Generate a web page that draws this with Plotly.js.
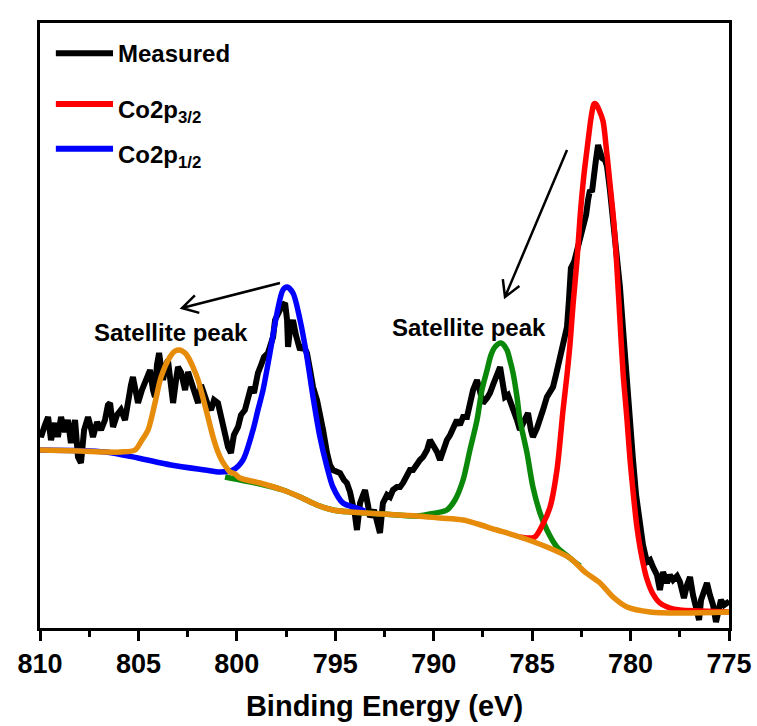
<!DOCTYPE html>
<html>
<head>
<meta charset="utf-8">
<script src="https://cdn.plot.ly/plotly-3.0.1.min.js"></script>
<style>html,body{margin:0;padding:0;background:#fff;}#chart{width:757px;height:726px;}</style>
</head>
<body>
<div id="chart"></div>
<script>
// Measured Co 2p spectrum (binding energy eV, intensity a.u.)
const measuredE = [810.00,809.95,809.75,809.59,809.44,809.24,809.09,808.93,808.73,808.58,808.43,808.22,808.07,807.92,807.76,807.56,807.41,807.31,807.10,806.90,806.70,806.55,806.44,806.29,806.09,805.89,805.68,805.53,805.38,805.28,805.12,805.02,804.82,804.67,804.51,804.41,804.26,804.16,804.06,803.95,803.85,803.75,803.60,803.50,803.35,803.24,803.09,802.99,802.84,802.63,802.48,802.33,802.13,801.97,801.82,801.62,801.47,801.31,801.16,800.96,800.81,800.70,800.55,800.45,800.30,800.15,799.94,799.79,799.59,799.43,799.28,799.13,798.93,798.77,798.62,798.42,798.27,798.16,798.06,797.91,797.81,797.66,797.55,797.45,797.40,797.30,797.15,797.00,796.79,796.64,796.44,796.28,796.13,795.93,795.78,795.62,795.42,795.27,795.12,794.91,794.76,794.56,794.41,794.25,794.15,794.00,793.90,793.74,793.59,793.49,793.34,793.24,793.03,792.88,792.73,792.58,792.37,792.22,792.07,791.87,791.71,791.56,791.36,791.21,791.05,790.85,790.70,790.54,790.34,790.19,790.04,789.83,789.68,789.53,789.33,789.17,789.02,788.82,788.67,788.51,788.31,788.16,788.00,787.80,787.65,787.50,787.29,787.14,786.99,786.79,786.63,786.48,786.38,786.23,786.13,785.97,785.77,785.62,785.41,785.21,785.06,784.96,784.75,784.60,784.45,784.25,784.09,783.94,783.79,783.64,783.48,783.33,783.23,783.13,783.03,782.87,782.72,782.57,782.42,782.26,782.16,782.06,781.96,781.86,781.76,781.65,781.55,781.45,781.30,781.20,781.05,780.89,780.69,780.54,780.38,780.18,780.03,779.88,779.72,779.52,779.37,779.17,779.01,778.86,778.66,778.51,778.35,778.15,778.00,777.84,777.64,777.49,777.29,777.13,776.98,776.83,776.68,776.52,776.42,776.27,776.12,775.97,775.81,775.66,775.56,775.41,775.25,775.10,775.00];
const measuredI = [198,191,203,211,188,205,191,211,196,208,185,208,171,165,198,211,200,191,206,198,208,223,225,201,213,218,208,231,243,251,233,225,238,245,256,258,238,231,263,275,260,248,263,268,243,225,248,261,256,238,256,248,233,225,243,231,223,218,228,225,210,201,188,181,175,193,201,213,218,228,241,235,255,263,271,275,288,291,308,316,318,323,325,308,281,298,308,293,278,283,275,258,241,228,215,198,175,163,158,156,155,148,145,136,128,113,98,125,133,138,123,111,118,108,95,125,133,131,138,141,141,145,151,158,158,165,168,171,178,188,183,176,168,178,188,193,200,208,203,211,211,228,238,248,233,225,230,235,243,253,261,243,231,233,228,218,208,198,208,215,198,191,200,208,218,231,236,241,253,266,283,293,301,328,360,366,378,388,403,413,428,438,436,448,468,483,478,470,468,462,438,410,378,341,298,238,203,169,133,100,83,66,68,61,53,38,56,45,53,48,52,46,30,43,51,33,21,8,28,38,45,33,23,6,18,28,23,25,23];

// Co2p3/2 fitted component (with background)
const co2p32E = [785.62,785.26,784.86,784.45,784.09,783.74,783.43,783.23,783.08,782.92,782.72,782.57,782.37,782.21,782.06,781.96,781.86,781.76,781.60,781.40,781.25,781.05,780.84,780.69,780.54,780.38,780.18,780.03,779.83,779.67,779.42,779.17,778.86,778.51,778.00,777.49,776.47,775.00];
const co2p32I = [91,90,91,104,121,158,218,253,283,324,368,410,453,479,503,516,524,524,518,507,483,445,403,359,308,255,208,169,128,100,70,49,34,25,20,18,17,16];

// Co2p1/2 fitted component (with background)
const co2p12E = [810.00,806.70,805.02,803.35,801.62,800.86,800.20,799.69,799.18,798.93,798.67,798.32,797.96,797.66,797.45,797.15,796.79,796.44,796.13,795.78,795.42,795.12,794.61,793.90,793.49];
const co2p12I = [178,176,170,163,158,156,158,168,198,218,238,275,315,338,341,335,308,271,231,191,161,141,125,120,117];

// Satellite peak near 786.6 eV (green)
const sat2E = [800.60,800.35,799.59,798.82,797.66,796.79,795.93,795.12,794.25,792.58,790.85,790.19,789.33,788.92,788.51,788.16,787.80,787.55,787.29,787.09,786.89,786.58,786.28,786.13,785.97,785.77,785.62,785.26,784.96,784.60,784.25,783.74,783.08,782.57];
const sat2I = [151,150,147,144,138,131,123,118,116,114,112,114,118,128,148,178,208,238,258,273,281,285,278,268,255,231,208,175,141,115,98,81,70,62];

// Satellite peak near 802.9 eV plus background (orange)
const sat1E = [810.00,807.97,806.70,805.89,805.17,804.82,804.51,804.16,803.85,803.40,803.14,802.89,802.63,802.48,802.23,801.97,801.72,801.47,801.21,800.96,800.75,800.55,800.35,800.09,799.84,798.82,797.66,796.79,795.93,795.12,794.25,792.58,790.85,789.68,788.51,786.79,785.62,784.25,783.08,782.32,781.55,780.89,780.18,779.01,777.34,775.00];
const sat1I = [178,177,176,176,178,188,198,225,251,271,277,278,275,271,261,248,230,211,191,176,167,161,156,154,150,145,138,131,123,118,116,114,112,110,108,98,91,81,70,56,45,31,21,16,15,16];

const xTickVals = [810,805,800,795,790,785,780,775];
const xMinorVals = [807.5,802.5,797.5,792.5,787.5,782.5,777.5];
const legendLabels = ['Measured','Co2p<sub>3/2</sub>','Co2p<sub>1/2</sub>'];
const legendColors = ['#000000','#ff0000','#0000ff'];
const annotationText = 'Satellite peak';

const FONT = 'Liberation Sans, Arial, Helvetica, sans-serif';
const ORANGE = '#e68c0a';
const GREEN = '#0a880a';

const traces = [
  {x: measuredE, y: measuredI, name: 'Measured', mode: 'lines', line: {color: '#000', width: 6}},
  {x: sat2E, y: sat2I, name: 'Satellite', mode: 'lines', line: {color: GREEN, width: 5.5, shape: 'spline', smoothing: 0.8}},
  {x: co2p12E, y: co2p12I, name: 'Co2p1/2', mode: 'lines', line: {color: '#0000ff', width: 5.5, shape: 'spline', smoothing: 0.8}},
  {x: co2p32E, y: co2p32I, name: 'Co2p3/2', mode: 'lines', line: {color: '#ff0000', width: 5.5, shape: 'spline', smoothing: 0.8}},
  {x: sat1E, y: sat1I, name: 'Satellite', mode: 'lines', line: {color: ORANGE, width: 5.5, shape: 'spline', smoothing: 0.8}}
];

const legendY = [0.950, 0.866, 0.792];
const shapes = legendY.map((y, i) => ({
  type: 'line', xref: 'paper', yref: 'paper', x0: 0.023, x1: 0.106, y0: y, y1: y,
  line: {color: legendColors[i], width: 6}
}));
// arrows pointing to the satellite peaks (paper coordinates)
shapes.push(
  {type: 'path', xref: 'paper', yref: 'paper',
   path: 'M0.3483,0.5702 L0.2061,0.5289 M0.2312,0.5208 L0.2061,0.5289 L0.2248,0.5498',
   line: {color: '#000', width: 2.5}},
  {type: 'path', xref: 'paper', yref: 'paper',
   path: 'M0.7649,0.7901 L0.6749,0.5471 M0.6958,0.5651 L0.6749,0.5471 L0.6717,0.5767',
   line: {color: '#000', width: 2.5}}
);
const annotations = legendY.map((y, i) => ({
  xref: 'paper', yref: 'paper', x: 0.111, y: y - (i > 0 ? 0.012 : 0), xanchor: 'left', yanchor: 'middle',
  text: legendLabels[i], showarrow: false,
  font: {family: FONT, size: 24, color: '#000', weight: 'bold'}
}));
annotations.push(
  {x: 803.35, y: 296, xref: 'x', yref: 'y', text: annotationText, showarrow: false,
   font: {family: FONT, size: 24, color: '#000', weight: 'bold'}},
  {x: 788.21, y: 301, xref: 'x', yref: 'y', text: annotationText, showarrow: false,
   font: {family: FONT, size: 24, color: '#000', weight: 'bold'}}
);

const layout = {
  width: 757, height: 726,
  margin: {l: 40, r: 28, t: 23, b: 98},
  paper_bgcolor: '#fff', plot_bgcolor: '#fff',
  showlegend: false,
  font: {family: FONT, color: '#000'},
  xaxis: {
    range: [810, 775], tickvals: xTickVals, ticktext: xTickVals.map(String),
    showline: true, linecolor: '#000', linewidth: 3, mirror: true,
    ticks: 'outside', ticklen: 10, tickwidth: 3, tickcolor: '#000',
    minor: {ticks: 'outside', ticklen: 6, tickwidth: 3, tickcolor: '#000', tickvals: xMinorVals},
    showgrid: false, zeroline: false,
    tickfont: {family: FONT, size: 27, color: '#000', weight: 'bold'},
    title: {text: 'Binding Energy (eV)', font: {family: FONT, size: 29, color: '#000', weight: 'bold'}, standoff: 18}
  },
  yaxis: {
    range: [0, 605], showline: true, linecolor: '#000', linewidth: 3, mirror: true,
    showticklabels: false, ticks: '', showgrid: false, zeroline: false
  },
  shapes: shapes,
  annotations: annotations
};

Plotly.newPlot('chart', traces, layout, {displayModeBar: false, staticPlot: true});
</script>
</body>
</html>
